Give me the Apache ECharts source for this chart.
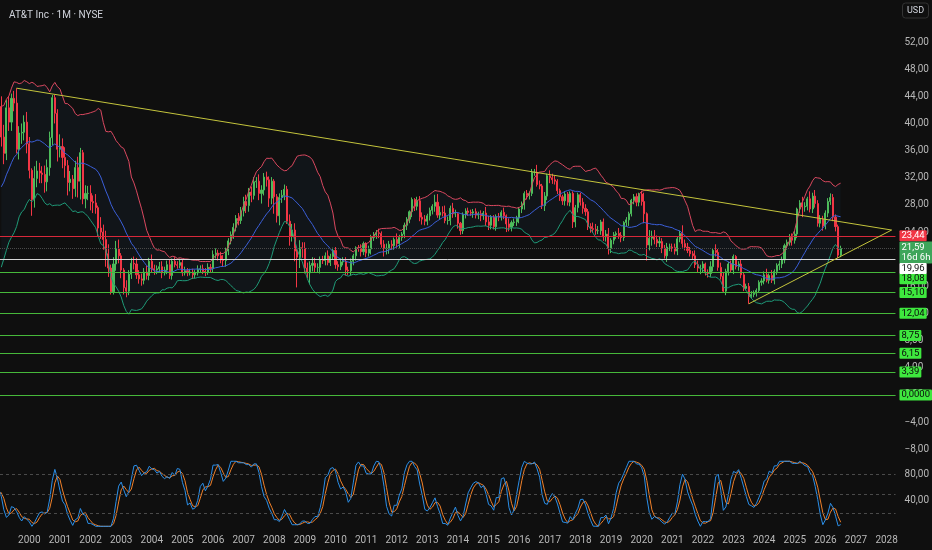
<!DOCTYPE html>
<html><head><meta charset="utf-8">
<script src="https://cdn.jsdelivr.net/npm/echarts@6/dist/echarts.min.js"></script>
<style>html,body{margin:0;padding:0;background:#0f0f0f;}#c{width:932px;height:550px;}</style>
</head><body><div id="c"></div>
<script>
// ---------------- DATA ----------------
const firstMonth = '1997-07';   // first bar in data (warm-up bars before the visible window)
const viewStart = '1999-02';    // first visible month
const axisEnd = '2028-04';      // last month on the time axis
// monthly closes (USD, spin-off adjusted as shown)
const closes = [
  21.9,20.5,23.3,25.0,27.2,27.8,                                  // 1997 Jul-Dec
  26.2,30.3,33.1,30.0,29.8,30.3,29.9,29.1,33.7,37.4,36.6,40.7,    // 1998
  42.5,38.0,35.6,42.3,40.2,43.7,43.0,36.2,38.6,38.7,40.2,37.0,    // 1999
  33.1,28.8,31.9,33.0,32.7,32.5,31.4,33.5,37.9,43.8,41.5,36.2,    // 2000
  36.6,35.0,33.8,31.3,31.8,30.4,33.5,31.5,35.7,28.9,29.7,29.7,    // 2001
  28.5,28.3,27.6,24.6,24.0,22.9,20.8,18.7,15.2,19.3,21.5,20.5,    // 2002
  18.4,15.8,15.3,17.8,19.4,19.3,17.7,17.1,16.9,18.1,17.6,19.7,    // 2003
  18.6,18.4,18.6,18.9,18.0,18.4,19.2,17.6,19.7,19.2,19.1,19.5,    // 2004
  18.0,18.3,18.0,18.1,17.7,18.0,18.5,18.6,18.2,18.1,18.8,18.6,    // 2005
  20.7,20.9,20.5,19.9,19.8,21.2,22.7,23.6,24.7,26.0,25.7,27.1,    // 2006
  28.5,27.9,29.9,29.4,31.4,31.5,29.7,30.2,32.1,31.7,29.0,31.5,    // 2007
  29.2,26.4,29.1,29.4,30.3,25.6,23.4,24.3,21.2,20.3,21.7,21.6,    // 2008
  18.7,18.0,19.1,19.4,18.8,18.8,19.9,19.8,20.5,19.5,20.4,21.3,    // 2009
  19.2,18.9,19.6,19.7,18.4,18.3,19.7,20.5,21.7,21.6,21.1,22.3,    // 2010
  20.9,21.5,23.2,23.6,23.9,23.8,22.2,21.6,21.6,22.2,22.0,22.9,    // 2011
  22.3,23.2,23.7,25.0,25.9,27.0,28.8,27.8,28.6,26.2,25.9,25.6,    // 2012
  26.4,27.2,27.8,28.4,26.5,26.9,26.8,25.7,25.7,27.5,26.7,26.7,    // 2013
  25.3,24.2,26.6,27.1,26.9,26.8,27.0,26.5,26.7,26.4,26.8,25.5,    // 2014
  25.0,26.2,24.8,26.3,26.2,26.9,26.4,25.2,24.7,25.4,25.5,26.1,    // 2015
  27.4,28.0,29.7,29.4,29.7,32.8,32.8,31.0,30.8,27.9,29.3,32.3,    // 2016
  32.0,31.7,31.5,30.1,29.2,28.6,29.6,28.4,29.7,25.5,27.6,29.5,    // 2017
  28.4,27.5,27.0,24.8,24.5,24.4,24.2,24.2,25.5,23.3,23.7,21.6,    // 2018
  22.8,23.6,23.8,23.5,23.2,25.4,25.8,26.7,28.7,29.2,28.4,29.6,    // 2019
  28.5,26.7,22.1,23.1,23.4,22.9,22.4,22.6,21.6,20.5,21.8,21.8,    // 2020
  21.7,21.2,23.0,23.8,22.3,21.8,21.3,20.8,20.5,19.2,18.7,18.7,    // 2021
  19.3,18.0,17.9,18.9,21.3,21.0,18.8,17.5,15.3,18.2,19.3,18.4,    // 2022
  20.4,18.9,19.3,17.7,15.7,16.0,14.5,14.8,15.0,15.4,16.6,16.8,    // 2023
  17.7,16.9,17.6,16.9,18.2,19.1,19.3,19.9,22.0,22.5,23.2,22.8,    // 2024
  23.7,27.4,28.3,27.7,27.8,28.9,27.4,29.3,28.2,25.3,25.9,24.9,    // 2025
  26.8,28.5,29.1,26.2,24.8,20.6,21.59                             // 2026 Jan-Jul
];
// upper wick above body, lower wick below body (USD)
const wickUp = [
  1.0,1.2,1.0,1.1,0.9,1.2,
  1.5,0.8,1.2,1.8,1.2,1.0,1.3,1.5,0.8,1.0,1.6,0.9,
  1.4,1.5,1.8,1.2,1.6,0.7,1.1,2.2,1.0,1.3,1.0,1.5,
  1.0,0.3,1.8,1.5,1.2,1.0,1.3,1.2,0.9,0.4,0.4,0.6,
  1.8,1.2,1.5,0.8,1.2,0.6,1.0,1.6,0.7,0.4,1.2,1.1,
  1.2,0.9,1.3,0.3,1.6,1.1,1.3,1.4,0.5,1.0,1.2,1.4,
  0.4,0.3,1.1,0.6,0.8,1.0,0.9,0.7,0.8,0.6,0.9,0.5,
  1.0,0.6,0.5,0.7,0.8,0.5,0.6,0.8,0.4,0.6,0.5,0.6,
  0.5,0.6,0.4,0.5,0.5,0.4,0.6,0.5,0.6,0.5,0.6,0.5,
  0.6,0.7,0.5,0.6,0.7,0.5,0.4,0.5,0.6,0.5,0.8,0.6,
  0.7,1.0,0.6,0.8,0.7,0.6,1.0,0.7,0.6,0.8,0.5,0.6,
  0.3,0.4,0.6,0.8,0.7,0.5,1.0,0.9,1.0,0.3,1.1,0.8,
  0.9,0.8,0.6,0.9,0.8,0.6,0.5,0.6,0.5,0.8,0.4,0.4,
  0.5,0.5,0.5,0.6,0.6,0.5,0.4,0.3,0.2,0.4,0.6,0.3,
  0.2,0.5,0.4,0.4,0.4,0.6,0.3,0.6,0.7,0.5,0.6,0.3,
  0.9,0.4,0.3,0.4,0.3,0.2,0.3,0.2,0.6,0.7,0.7,0.6,
  0.3,0.4,0.3,1.1,1.2,0.9,0.9,1.1,0.6,0.4,0.8,0.6,
  0.1,0.2,0.3,0.4,0.5,0.4,0.4,0.5,0.3,0.5,0.3,0.9,
  0.9,0.3,0.3,0.3,0.5,0.3,0.7,0.2,0.8,0.3,0.5,0.3,
  0.3,0.5,0.3,0.5,0.3,0.5,0.5,1.1,0.6,0.3,0.6,0.3,
  0.8,0.6,0.6,0.3,0.3,0.3,0.4,0.3,0.3,0.3,0.4,0.3,
  0.3,0.6,0.6,0.4,0.5,0.9,0.8,0.7,0.3,0.5,0.6,0.9,
  0.3,0.4,0.3,0.8,0.5,0.2,0.4,0.3,0.2,0.4,0.5,0.2,
  0.5,1.3,0.2,1.2,0.8,0.9,0.6,0.8,0.5,0.5,0.6,0.5,
  0.5,0.6,0.3,0.4,1.2,0.6,0.6,0.5,0.4,0.8,0.6,0.5,
  0.4,0.2,0.5,0.8,0.3,0.9,0.5,0.7,0.5,0.4,0.3,0.5,
  0.3,0.2,0.4,0.6,0.4,0.4,0.5,0.5,0.4,0.3,0.3,0.4,
  0.5,0.9,0.3,0.8,0.3,0.3,0.5,0.5,0.3,0.4,0.5,0.6,
  0.5,0.2,0.4,0.9,0.6,0.3,1.1,0.5,0.9,0.5,0.6,0.5,
  0.4,0.5,0.6,0.5,0.4,0.3,0.4
];
const wickDn = [
  1.0,1.3,0.6,1.0,1.1,1.5,
  1.6,0.7,1.0,1.2,1.3,1.1,1.0,3.5,1.8,1.2,1.5,1.3,
  1.2,1.4,1.6,1.0,1.3,1.3,1.2,0.6,1.5,1.6,1.2,1.4,
  1.2,2.4,1.2,1.3,1.5,1.3,1.6,1.4,1.2,1.1,1.5,1.8,
  1.2,1.6,1.8,1.9,1.3,1.5,1.2,2.4,2.7,0.8,1.4,1.0,
  1.3,1.5,0.9,1.2,1.0,1.5,1.9,1.3,0.4,0.4,1.0,1.1,
  1.2,1.0,0.9,0.6,0.7,0.8,0.6,0.7,0.8,0.6,0.6,0.7,
  0.6,0.7,0.6,0.5,0.8,0.4,0.6,0.5,0.6,0.4,0.5,0.4,
  0.5,0.4,0.5,0.4,0.6,0.5,0.4,0.5,0.4,0.6,0.4,0.5,
  0.5,0.6,0.7,0.5,0.8,0.9,0.6,0.5,0.6,0.6,0.7,0.5,
  0.8,1.1,0.9,1.0,0.6,0.9,1.0,1.5,0.8,1.0,1.3,0.9,
  2.5,1.0,1.4,0.8,0.7,0.4,1.4,0.8,1.5,4.45,1.6,1.4,
  0.8,0.8,1.7,0.9,0.8,0.7,0.9,0.5,0.7,0.4,0.5,0.5,
  0.6,0.6,0.5,0.5,0.8,0.6,0.7,0.6,0.7,0.5,0.7,0.5,
  0.6,0.5,0.8,0.5,0.6,0.7,0.5,1.2,0.9,0.8,0.6,0.6,
  0.6,0.7,0.5,0.6,0.7,0.6,0.8,0.7,0.6,0.6,0.8,0.6,
  0.6,0.7,0.6,0.8,0.4,0.7,0.5,0.4,0.6,0.7,0.6,0.5,
  0.8,0.6,0.5,0.6,0.5,0.4,0.7,0.5,0.6,0.8,0.6,0.6,
  0.7,0.6,0.4,0.6,0.6,0.5,0.5,1.2,0.6,0.6,0.5,0.6,
  0.8,0.6,0.7,0.6,0.6,0.4,0.5,0.3,0.5,0.5,0.8,0.6,
  0.8,0.6,0.5,0.5,0.6,0.6,0.7,0.5,0.6,0.9,0.8,0.7,
  0.5,0.8,0.6,0.5,0.6,0.5,0.6,0.5,0.6,0.6,0.7,0.9,
  0.7,0.6,0.6,0.5,0.7,0.5,0.6,0.9,0.4,0.6,0.6,0.6,
  0.6,1.4,2.3,0.8,1.1,0.7,0.6,0.6,0.7,0.4,0.9,0.6,
  0.6,0.5,0.6,0.5,0.6,0.5,0.4,0.4,0.5,0.5,0.6,0.9,
  0.7,0.4,0.6,0.5,0.7,0.6,0.5,0.5,0.2,0.6,0.6,0.4,
  0.6,0.4,0.6,0.5,0.4,0.3,1.07,0.3,0.4,0.5,0.3,0.5,
  0.5,0.3,0.5,0.4,0.6,0.5,0.7,0.6,0.5,0.6,0.5,0.8,
  0.5,0.6,0.6,1.5,0.7,0.6,0.5,0.6,0.6,0.5,0.6,0.7,
  0.5,0.6,0.5,0.6,0.7,0.4,0.3
];
const priceTicks = [-8,-4,0,4,8,12,16,20,24,28,32,36,40,44,48,52];
const stochTicks = [40,80];
const stochBands = [80,50,20];
const redLevel = 23.44;
const whiteLevel = 19.96;
const greenLevels = [18.08,15.10,12.04,8.75,6.15,3.39,0];
const greenLevelText = ['18,08','15,10','12,04','8,75','6,15','3,39','0,0000'];
const lastPrice = 21.59;
const countdown = '16d 6h';
const lastK = 17.12;
const lastD = 15.19;
const trendDown = [['1999-08',45.2],['2028-03',24.3]];
const trendUp = [['2023-07',13.43],['2028-03',24.3]];
const titleText = 'AT&T Inc · 1M · NYSE';
const currency = 'USD';

// ---------------- HELPERS ----------------
function monthSeq(a,b){const [sy,sm]=a.split('-').map(Number);const [ey,em]=b.split('-').map(Number);const out=[];let y=sy,m=sm;while(y<ey||(y===ey&&m<=em)){out.push(y+'-'+String(m).padStart(2,'0'));m++;if(m>12){m=1;y++;}}return out;}
const fmt = v => (v<0?'\u2212':'') + Math.abs(v).toFixed(2).replace('.',',');
const cats = monthSeq(firstMonth, axisEnd);
const viewIdx = cats.indexOf(viewStart);

const candles = closes.map((c,i)=>{const o=i===0?c:closes[i-1];const h=Math.max(o,c)+(wickUp[i]||0);const l=Math.min(o,c)-(wickDn[i]||0);return [o,c,+l.toFixed(2),+h.toFixed(2)];});

// Bollinger Bands (20, 2)
const N=20, MULT=2;
const mid=[],up=[],lo=[],band=[];
for(let i=0;i<closes.length;i++){
  if(i<N-1){mid.push(null);up.push(null);lo.push(null);band.push(null);continue;}
  const w=closes.slice(i-N+1,i+1);const m=w.reduce((a,b)=>a+b,0)/N;
  const sd=Math.sqrt(w.reduce((a,b)=>a+(b-m)*(b-m),0)/N);
  mid.push(m);up.push(m+MULT*sd);lo.push(m-MULT*sd);band.push(2*MULT*sd);
}
// Stochastic RSI (14,14,3,3)
const RL=14, SL=14;
const rsi=Array(closes.length).fill(null);
let ag=0,al=0;
for(let i=1;i<closes.length;i++){
  const ch=closes[i]-closes[i-1];const g=Math.max(ch,0),l=Math.max(-ch,0);
  if(i<=RL){ag=(ag*(i-1)+g)/i;al=(al*(i-1)+l)/i;}else{ag=(ag*(RL-1)+g)/RL;al=(al*(RL-1)+l)/RL;}
  if(i>=3) rsi[i]= al===0?100:100-100/(1+ag/al);
}
const st=Array(closes.length).fill(null);
for(let i=0;i<closes.length;i++){
  if(rsi[i]===null)continue;
  const w=[];for(let j=Math.max(0,i-SL+1);j<=i;j++) if(rsi[j]!==null) w.push(rsi[j]);
  if(w.length<3)continue;
  const mn=Math.min(...w),mx=Math.max(...w);
  st[i]= mx===mn ? (i>0&&st[i-1]!==null?st[i-1]:50) : (rsi[i]-mn)/(mx-mn)*100;
}
function sma(a,n){return a.map((v,i)=>{if(v===null)return null;const w=[];for(let j=Math.max(0,i-n+1);j<=i;j++) if(a[j]!==null) w.push(a[j]);return w.reduce((x,y)=>x+y,0)/w.length;});}
const K=sma(st,3), D=sma(K,3);

// ---------------- STYLE ----------------
const UP='#4dbb5b', DOWN='#f23645', AX='#b8b8b8', FONT='Roboto, "Noto Sans", sans-serif';
const GREEN_LINE='#46b83a', TREND='#c4c43c';
const boxLabel=(bg,fg,text,dy)=>({show:true,position:'end',distance:4,formatter:text,backgroundColor:bg,color:fg,
  fontSize:9.5,fontFamily:FONT,padding:[1,2,0,2],lineHeight:10,borderRadius:1,offset:[0,dy||0]});
const labelShift={white:9,firstGreen:6.5};

const greenItems=greenLevels.map((v,i)=>({yAxis:v,label:boxLabel('#3ee83e','#0a0a0a',greenLevelText[i],i===0?labelShift.firstGreen:0)}));
const otherItems=[
  {yAxis:redLevel,lineStyle:{color:'#d8283a'},label:boxLabel('#f23645','#fff',fmt(redLevel))},
  {yAxis:lastPrice,lineStyle:{color:'#4a4a4a',type:'dotted'},label:Object.assign(boxLabel('#3ea55a','#fff',fmt(lastPrice)+'\n'+countdown,4),{padding:[1,2,1,2]})},
  {yAxis:whiteLevel,lineStyle:{color:'#d6d6d6'},label:boxLabel('#ffffff','#111',fmt(whiteLevel),labelShift.white)}
];
const seg=p=>[{coord:[cats.indexOf(p[0][0]),p[0][1]]},{coord:[cats.indexOf(p[1][0]),p[1][1]]}];

const chart=echarts.init(document.getElementById('c'));
chart.setOption({
  animation:false,
  backgroundColor:'#0f0f0f',
  title:{text:titleText,left:4,top:5,textStyle:{color:'#d1d4dc',fontSize:10,fontWeight:'normal',fontFamily:FONT}},
  graphic:[
    {type:'rect',shape:{x:902.5,y:3,width:26,height:15,r:3},style:{fill:'#0f0f0f',stroke:'#333',lineWidth:1}},
    {type:'text',x:915.5,y:10.5,style:{text:currency,fill:'#d1d4dc',fontSize:9,fontFamily:FONT,align:'center',verticalAlign:'middle'}}
  ],
  grid:[{left:-0.6,right:36,top:0,height:456},{left:-0.6,right:36,top:457,height:74}],
  xAxis:[
    {type:'category',gridIndex:0,data:cats,min:viewIdx,max:cats.length-1,boundaryGap:true,
      axisLine:{show:true,lineStyle:{color:'#2b2b2b'}},axisTick:{show:false},axisLabel:{show:false},splitLine:{show:false}},
    {type:'category',gridIndex:1,data:cats,min:viewIdx,max:cats.length-1,boundaryGap:true,
      axisLine:{show:false},axisTick:{show:false},splitLine:{show:false},
      axisLabel:{color:AX,fontSize:10,fontFamily:FONT,margin:4,interval:(i,v)=>v.endsWith('-01'),formatter:v=>v.slice(0,4),hideOverlap:false}}
  ],
  yAxis:[
    {type:'value',gridIndex:0,position:'right',min:-8.99,max:58.19,splitLine:{show:false},axisLine:{show:false},axisTick:{show:false},
      axisLabel:{customValues:priceTicks,formatter:v=>fmt(v),color:AX,fontSize:10,fontFamily:FONT,margin:9}},
    {type:'value',gridIndex:1,position:'right',min:-7.2,max:106.6,splitLine:{show:false},axisLine:{show:false},axisTick:{show:false},
      axisLabel:{customValues:stochTicks,formatter:v=>fmt(v),color:AX,fontSize:10,fontFamily:FONT,margin:9}}
  ],
  series:[
    {type:'line',name:'bbBase',xAxisIndex:0,yAxisIndex:0,data:lo,stack:'bb',symbol:'none',lineStyle:{opacity:0},z:1,silent:true},
    {type:'line',name:'bbFill',xAxisIndex:0,yAxisIndex:0,data:band,stack:'bb',symbol:'none',lineStyle:{opacity:0},areaStyle:{color:'rgba(60,120,200,0.08)'},z:1,silent:true},
    {type:'candlestick',name:'T',xAxisIndex:0,yAxisIndex:0,data:candles,barWidth:'62%',z:3,
      itemStyle:{color:UP,color0:DOWN,borderColor:UP,borderColor0:DOWN,borderWidth:1}},
    {type:'line',name:'upper',xAxisIndex:0,yAxisIndex:0,data:up,symbol:'none',lineStyle:{color:'#d9485f',width:1},z:4},
    {type:'line',name:'basis',xAxisIndex:0,yAxisIndex:0,data:mid,symbol:'none',lineStyle:{color:'#3b5fd9',width:1},z:4},
    {type:'line',name:'lower',xAxisIndex:0,yAxisIndex:0,data:lo,symbol:'none',lineStyle:{color:'#1f9a78',width:1},z:4},
    {type:'line',name:'greenLevels',xAxisIndex:0,yAxisIndex:0,data:[],z:5,
      markLine:{silent:true,symbol:['none','none'],animation:false,lineStyle:{color:GREEN_LINE,width:1.2,type:'solid'},data:greenItems}},
    {type:'line',name:'otherLevels',xAxisIndex:0,yAxisIndex:0,data:[],z:6,
      markLine:{silent:true,symbol:['none','none'],animation:false,lineStyle:{width:1,type:'solid'},data:otherItems}},
    {type:'line',name:'trendlines',xAxisIndex:0,yAxisIndex:0,data:[],z:6,
      markLine:{silent:true,symbol:['none','none'],animation:false,label:{show:false},lineStyle:{color:TREND,width:1,type:'solid'},data:[seg(trendDown),seg(trendUp)]}},
    {type:'line',name:'K',xAxisIndex:1,yAxisIndex:1,data:K,symbol:'none',lineStyle:{color:'#2b8fe8',width:1},z:4,
      markLine:{silent:true,symbol:['none','none'],animation:false,data:
        stochBands.map(v=>({yAxis:v,lineStyle:{color:'#4a4a4a',width:1,type:[3,3]},label:{show:false}}))
        .concat([{yAxis:lastK,lineStyle:{opacity:0},label:boxLabel('#2196f3','#fff',fmt(lastK))}])}},
    {type:'line',name:'D',xAxisIndex:1,yAxisIndex:1,data:D,symbol:'none',lineStyle:{color:'#f0802a',width:1},z:3,
      markLine:{silent:true,symbol:['none','none'],animation:false,data:[{yAxis:lastD,lineStyle:{opacity:0},label:boxLabel('#f57c00','#fff',fmt(lastD),9.6)}]}}
  ]
});
</script></body></html>
